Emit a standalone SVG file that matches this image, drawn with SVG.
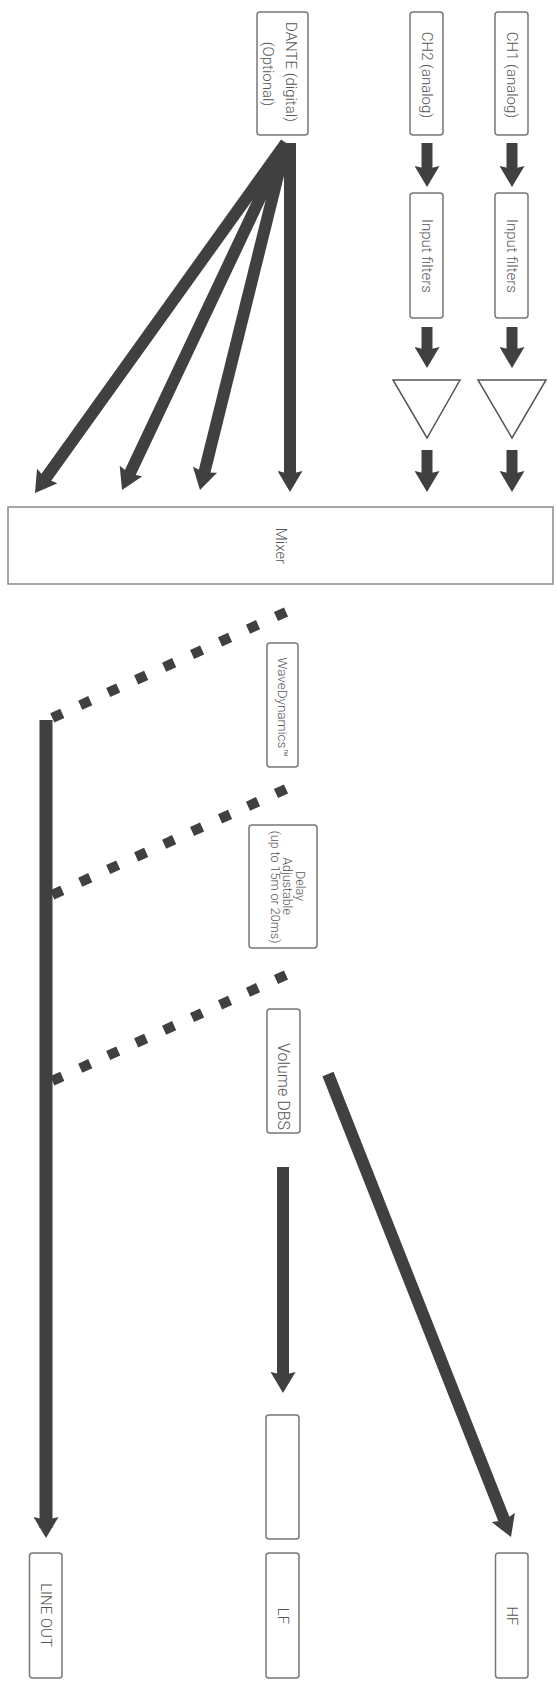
<svg xmlns="http://www.w3.org/2000/svg" width="557" height="1687" viewBox="0 0 557 1687">
<defs>
<style>
.box{fill:#fff;stroke:#777;stroke-width:1.5}
.mix{fill:#fff;stroke:#888;stroke-width:1.5}
.tri{fill:#fff;stroke:#555;stroke-width:1.5}
.t{font-family:Roboto,"Liberation Sans",sans-serif;font-weight:300;font-size:15px;fill:#555;text-anchor:middle;dominant-baseline:central}
.ts{font-size:12.5px}
.arr{stroke:#404040;fill:none;marker-end:url(#ah)}
.dash{stroke:#404040;fill:none;stroke-width:10;stroke-dasharray:11 19.7}
</style>
<marker id="ah" markerUnits="userSpaceOnUse" viewBox="0 0 21 25" markerWidth="21" markerHeight="25" refX="11" refY="12.5" orient="auto">
<path d="M0,0 L21,12.5 L0,25 L3,12.5 Z" fill="#404040"/>
</marker>
<clipPath id="volclip"><rect x="268" y="1010" width="31" height="122"/></clipPath>
</defs>
<rect width="557" height="1687" fill="#fff"/>

<g id="connectors">
<line class="arr" stroke-width="11" x1="427" y1="143" x2="427" y2="177"/>
<line class="arr" stroke-width="11" x1="512" y1="143" x2="512" y2="177"/>
<line class="arr" stroke-width="11" x1="427" y1="327" x2="427" y2="358"/>
<line class="arr" stroke-width="11" x1="512" y1="327" x2="512" y2="358"/>
<line class="arr" stroke-width="11" x1="427" y1="450" x2="427" y2="482"/>
<line class="arr" stroke-width="11" x1="512" y1="450" x2="512" y2="482"/>
<line class="arr" stroke-width="12" x1="290" y1="143" x2="290" y2="482"/>
<line class="arr" stroke-width="12" x1="286" y1="143" x2="202.4" y2="480.3"/>
<line class="arr" stroke-width="12" x1="286" y1="143" x2="126.3" y2="481"/>
<line class="arr" stroke-width="12" x1="286" y1="143" x2="40.8" y2="484.9"/>
<line class="dash" x1="286" y1="612" x2="52" y2="718"/>
<line class="dash" x1="286" y1="789" x2="52" y2="895"/>
<line class="dash" x1="286" y1="975" x2="52" y2="1081"/>
<line class="arr" stroke-width="13" x1="46" y1="720" x2="46" y2="1528"/>
<line class="arr" stroke-width="12" x1="283" y1="1167" x2="283" y2="1383"/>
<line class="arr" stroke-width="12" x1="328" y1="1074" x2="507.3" y2="1527.7"/>
</g>

<g id="dante">
<rect class="box" x="257" y="12" width="51" height="123" rx="3"/>
<text class="t" transform="translate(291,72) rotate(90)">DANTE (digital)</text>
<text class="t" transform="translate(268,74) rotate(90)">(Optional)</text>
</g>
<g id="ch2">
<rect class="box" x="410" y="12" width="33" height="123" rx="3"/>
<text class="t" transform="translate(427,75) rotate(90)">CH2 (analog)</text>
</g>
<g id="ch1">
<rect class="box" x="495" y="12" width="33" height="123" rx="3"/>
<text class="t" transform="translate(511.5,75) rotate(90)">CH1 (analog)</text>
</g>
<g id="filters2">
<rect class="box" x="410" y="193" width="33" height="125" rx="3"/>
<text class="t" transform="translate(427,256) rotate(90)">Input filters</text>
</g>
<g id="filters1">
<rect class="box" x="495" y="193" width="33" height="125" rx="3"/>
<text class="t" transform="translate(511.5,256) rotate(90)">Input filters</text>
</g>
<g id="amp2">
<polygon class="tri" points="393,380 460,380 427,438"/>
</g>
<g id="amp1">
<polygon class="tri" points="478,380 546,380 512,438"/>
</g>
<g id="mixer">
<rect class="mix" x="8" y="507" width="545" height="77"/>
<text class="t" transform="translate(281,546) rotate(90)">Mixer</text>
</g>
<g id="wavedynamics">
<rect class="box" x="267" y="643" width="31" height="124" rx="3"/>
<text class="t" style="font-size:13.5px" transform="translate(282.5,707) rotate(90)">WaveDynamics™</text>
</g>
<g id="delay">
<rect class="box" x="249" y="825" width="68" height="123" rx="3"/>
<text class="t ts" transform="translate(300,886) rotate(90)">Delay</text>
<text class="t ts" transform="translate(287.5,886) rotate(90)">Adjustable</text>
<text class="t ts" transform="translate(275,887) rotate(90)">(up to 15m or 20ms)</text>
</g>
<g id="volume">
<rect class="box" x="267" y="1009" width="33" height="124" rx="3"/>
<g clip-path="url(#volclip)">
<text class="t" style="font-size:16px;text-anchor:start" transform="translate(283.5,1043) rotate(90)">Volume DBS</text>
</g>
</g>
<g id="lf-filter">
<rect class="box" x="266" y="1415" width="33" height="124" rx="3"/>
</g>
<g id="lineout">
<rect class="box" x="29.5" y="1553" width="32.5" height="125" rx="3"/>
<text class="t" transform="translate(46,1615) rotate(90)">LINE OUT</text>
</g>
<g id="lf">
<rect class="box" x="266" y="1553" width="33" height="125" rx="3"/>
<text class="t" transform="translate(283,1616) rotate(90)">LF</text>
</g>
<g id="hf">
<rect class="box" x="495.5" y="1553" width="32.5" height="125" rx="3"/>
<text class="t" transform="translate(512,1616) rotate(90)">HF</text>
</g>
</svg>
